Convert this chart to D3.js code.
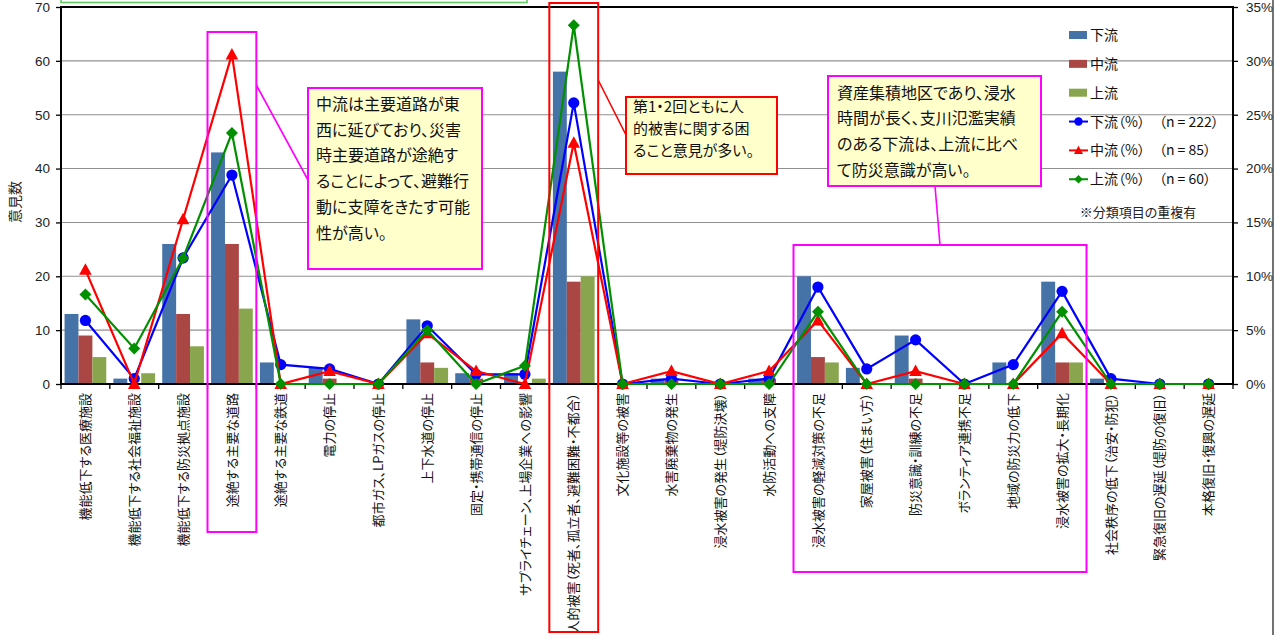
<!DOCTYPE html>
<html><head><meta charset="utf-8">
<script src="https://cdn.jsdelivr.net/npm/d3@7"></script>
<style>
body{margin:0;background:#fff;}
svg{display:block;font-family:"Noto Sans CJK JP","Noto Sans",sans-serif;}
.jp{font-feature-settings:"palt";}
</style></head><body>
<svg id="c" width="1283" height="635"></svg>
<script>
// ---------- data ----------
const categories = [
  "機能低下する医療施設",
  "機能低下する社会福祉施設",
  "機能低下する防災拠点施設",
  "途絶する主要な道路",
  "途絶する主要な鉄道",
  "電力の停止",
  "都市ガス、LPガスの停止",
  "上下水道の停止",
  "固定・携帯通信の停止",
  "サプライチェーン、上場企業への影響",
  "人的被害（死者、孤立者、避難困難・不都合）",
  "文化施設等の被害",
  "水害廃棄物の発生",
  "浸水被害の発生（堤防決壊）",
  "水防活動への支障",
  "浸水被害の軽減対策の不足",
  "家屋被害（住まい方）",
  "防災意識・訓練の不足",
  "ボランティア連携不足",
  "地域の防災力の低下",
  "浸水被害の拡大・長期化",
  "社会秩序の低下（治安・防犯）",
  "緊急復旧の遅延（堤防の復旧）",
  "本格復旧・復興の遅延"
];
const barNames = ["下流", "中流", "上流"];
const downCounts = [13, 1, 26, 43, 4, 3, 0, 12, 2, 2, 58, 0, 1, 0, 1, 20, 3, 9, 0, 4, 19, 1, 0, 0];
const midCounts  = [9, 0, 13, 26, 0, 1, 0, 4, 1, 0, 19, 0, 1, 0, 1, 5, 0, 1, 0, 0, 4, 0, 0, 0];
const upCounts   = [5, 2, 7, 14, 0, 0, 0, 3, 0, 1, 20, 0, 0, 0, 0, 4, 0, 0, 0, 0, 4, 0, 0, 0];
const lineNames = ["下流（%）　（n = 222）", "中流（%）　（n = 85）", "上流（%）　（n = 60）"];
const downPct = [5.9, 0.5, 11.7, 19.4, 1.8, 1.4, 0, 5.4, 0.9, 0.9, 26.1, 0, 0.5, 0, 0.5, 9.0, 1.4, 4.1, 0, 1.8, 8.6, 0.5, 0, 0];
const midPct  = [10.6, 0, 15.3, 30.6, 0, 1.2, 0, 4.7, 1.2, 0, 22.4, 0, 1.2, 0, 1.2, 5.9, 0, 1.2, 0, 0, 4.7, 0, 0, 0];
const upPct   = [8.3, 3.3, 11.7, 23.3, 0, 0, 0, 5.0, 0, 1.7, 33.3, 0, 0, 0, 0, 6.7, 0, 0, 0, 0, 6.7, 0, 0, 0];
const countTicks = [0, 10, 20, 30, 40, 50, 60, 70];
const pctTicks = [0, 5, 10, 15, 20, 25, 30, 35];
const yTitle = "意見数";
const note = "※分類項目の重複有";
const callout1 = ["中流は主要道路が東", "西に延びており、災害", "時主要道路が途絶す", "ることによって、避難行", "動に支障をきたす可能", "性が高い。"];
const callout2 = ["第1・2回ともに人", "的被害に関する困", "ること意見が多い。"];
const callout3 = ["資産集積地区であり、浸水", "時間が長く、支川氾濫実績", "のある下流は、上流に比べ", "て防災意識が高い。"];

// ---------- setup ----------
const barColors = ["#4572A7", "#AA4643", "#89A54E"];
const lineColors = ["#0000FF", "#FF0000", "#009000"];
const bars = [downCounts, midCounts, upCounts];
const lines = [downPct, midPct, upPct];

const L = 61, R = 1233, T = 7, B = 384;
const svg = d3.select("#c");
const x = d3.scaleBand().domain(categories).range([L, R]);
const xs = d3.scaleBand().domain(barNames).range([0, x.bandwidth()]).paddingOuter(0.2565);
const y = d3.scaleLinear().domain([0, 70]).range([B, T]);
const yp = d3.scaleLinear().domain([0, 35]).range([B, T]);
const cx = c => x(c) + x.bandwidth() / 2;

// top green box (cut off)
svg.append("rect").attr("x", 61).attr("y", -12).attr("width", 466).attr("height", 14.5)
  .attr("fill", "#fff").attr("stroke", "#63c763").attr("stroke-width", 1.6);

// gridlines
svg.append("g").selectAll("line").data(countTicks.filter(t => t > 0 && t < 70)).join("line")
  .attr("x1", L).attr("x2", R).attr("y1", d => y(d)).attr("y2", d => y(d))
  .attr("stroke", "#909090").attr("stroke-width", 1.1);

// bars
bars.forEach((vals, si) => {
  svg.append("g").selectAll("rect").data(vals).join("rect")
    .attr("x", (d, i) => x(categories[i]) + xs(barNames[si]))
    .attr("width", xs.bandwidth())
    .attr("y", d => y(d))
    .attr("height", d => B - y(d))
    .attr("fill", barColors[si]);
});

// axes
const ga = svg.append("g").attr("transform", `translate(${L},0)`)
  .call(d3.axisLeft(y).tickValues(countTicks).tickSize(5).tickPadding(6));
ga.select(".domain").remove();
ga.selectAll("line").attr("stroke", "#000").attr("stroke-width", 1.3);
ga.selectAll("text").attr("font-family", "Liberation Sans, Arial, sans-serif").attr("font-size", 13.5).attr("fill", "#222");

const gr = svg.append("g").attr("transform", `translate(${R},0)`)
  .call(d3.axisRight(yp).tickValues(pctTicks).tickFormat(d => d + "%").tickSize(5).tickPadding(8));
gr.select(".domain").remove();
gr.selectAll("line").attr("stroke", "#000").attr("stroke-width", 1.3);
gr.selectAll("text").attr("font-family", "Liberation Sans, Arial, sans-serif").attr("font-size", 13.5).attr("fill", "#222");

const gb = svg.append("g").attr("transform", `translate(0,${B})`)
  .call(d3.axisBottom(x).tickSize(0));
gb.select(".domain").remove();
gb.selectAll("text")
  .attr("class", "jp")
  .attr("transform", "rotate(-90)")
  .attr("text-anchor", "end")
  .attr("x", -9).attr("y", 0).attr("dy", "0.36em")
  .attr("font-family", "Noto Sans CJK JP").attr("font-size", 13).attr("fill", "#111");
// boundary ticks
svg.append("g").selectAll("line").data(d3.range(categories.length + 1)).join("line")
  .attr("x1", i => L + i * x.step()).attr("x2", i => L + i * x.step())
  .attr("y1", B).attr("y2", B + 5).attr("stroke", "#000").attr("stroke-width", 1.3);

// plot frame
svg.append("rect").attr("x", L).attr("y", T).attr("width", R - L).attr("height", B - T)
  .attr("fill", "none").attr("stroke", "#000").attr("stroke-width", 2);

// y title
svg.append("text").attr("transform", "translate(15,202) rotate(-90)")
  .attr("text-anchor", "middle").attr("dy", "0.36em")
  .attr("font-size", 14).attr("fill", "#222").text(yTitle);

// lines + markers
const markerPath = [
  null,
  "M0,-6.5L6.3,5L-6.3,5Z",
  "M0,-6L6,0L0,6L-6,0Z"
];
const lineGen = d3.line().x((d, i) => cx(categories[i])).y(d => yp(d));
lines.forEach((vals, si) => {
  const g = svg.append("g");
  g.append("path").attr("d", lineGen(vals)).attr("fill", "none")
    .attr("stroke", lineColors[si]).attr("stroke-width", 2.2);
  if (si === 0) {
    g.selectAll("circle").data(vals).join("circle")
      .attr("cx", (d, i) => cx(categories[i])).attr("cy", d => yp(d)).attr("r", 5.6)
      .attr("fill", lineColors[si]);
  } else {
    g.selectAll("path.m").data(vals).join("path").attr("class", "m")
      .attr("transform", (d, i) => `translate(${cx(categories[i])},${yp(d)})`)
      .attr("d", markerPath[si]).attr("fill", lineColors[si]);
  }
});

// legend
const lg = svg.append("g").attr("class", "jp").attr("font-size", 14).attr("fill", "#111");
const lx = 1069, ly0 = 35, lstep = 28.85;
barNames.forEach((n, i) => {
  const yy = ly0 + i * lstep;
  lg.append("rect").attr("x", lx).attr("y", yy - 4).attr("width", 18).attr("height", 8).attr("fill", barColors[i]);
  lg.append("text").attr("x", lx + 21).attr("y", yy).attr("dy", "0.36em").text(n);
});
lineNames.forEach((n, i) => {
  const yy = ly0 + (i + 3) * lstep;
  lg.append("line").attr("x1", lx).attr("x2", lx + 19).attr("y1", yy).attr("y2", yy)
    .attr("stroke", lineColors[i]).attr("stroke-width", 2);
  if (i === 0) lg.append("circle").attr("cx", lx + 9.5).attr("cy", yy).attr("r", 4.2).attr("fill", lineColors[i]);
  else lg.append("path").attr("transform", `translate(${lx + 9.5},${yy}) scale(0.72)`).attr("d", markerPath[i]).attr("fill", lineColors[i]);
  lg.append("text").attr("x", lx + 21).attr("y", yy).attr("dy", "0.36em").text(n);
});
svg.append("text").attr("class", "jp").attr("x", 1138).attr("y", 212).attr("dy", "0.36em")
  .attr("text-anchor", "middle").attr("font-size", 13).attr("fill", "#222").text(note);

// annotation highlight boxes (derived from category bands)
const c4 = categories[3], c11 = categories[10], c16 = categories[15], c21 = categories[20];
svg.append("rect").attr("x", x(c4)).attr("y", 32).attr("width", x.bandwidth()).attr("height", 500)
  .attr("fill", "none").attr("stroke", "#FF00FF").attr("stroke-width", 2);
svg.append("rect").attr("x", x(c11)).attr("y", 3).attr("width", x.bandwidth()).attr("height", 629)
  .attr("fill", "none").attr("stroke", "#FF0000").attr("stroke-width", 2);
svg.append("rect").attr("x", x(c16)).attr("y", 245).attr("width", x(c21) + x.bandwidth() - x(c16)).attr("height", 327)
  .attr("fill", "none").attr("stroke", "#FF00FF").attr("stroke-width", 2);

// leader lines
svg.append("line").attr("x1", x(c4) + x.bandwidth()).attr("y1", 85).attr("x2", 308).attr("y2", 180)
  .attr("stroke", "#FF00FF").attr("stroke-width", 1.6);
svg.append("line").attr("x1", x(c11) + x.bandwidth()).attr("y1", 80).attr("x2", 626).attr("y2", 135)
  .attr("stroke", "#FF0000").attr("stroke-width", 1.6);
svg.append("line").attr("x1", 935).attr("y1", 186).attr("x2", 940).attr("y2", 245)
  .attr("stroke", "#FF00FF").attr("stroke-width", 1.6);

// callouts
function callout(bx, by, bw, bh, color, linesTxt, tx, ty0, step, fs) {
  svg.append("rect").attr("x", bx).attr("y", by).attr("width", bw).attr("height", bh)
    .attr("fill", "#FFFFCC").attr("stroke", color).attr("stroke-width", 2);
  const t = svg.append("g").attr("class", "jp").attr("font-size", fs).attr("fill", "#111");
  linesTxt.forEach((s, i) => t.append("text").attr("x", tx).attr("y", ty0 + i * step).attr("dy", "0.36em").text(s));
}
callout(308, 88, 174, 181, "#FF00FF", callout1, 316, 104, 25.8, 16);
callout(626, 97, 151, 77, "#FF0000", callout2, 633, 107, 21.8, 15);
callout(828, 76, 213, 110, "#FF00FF", callout3, 837, 93, 25.7, 16);

// outer chart edge
svg.append("line").attr("x1", 1273).attr("x2", 1273).attr("y1", 0).attr("y2", 635)
  .attr("stroke", "#444").attr("stroke-width", 1.5);
</script>
</body></html>
